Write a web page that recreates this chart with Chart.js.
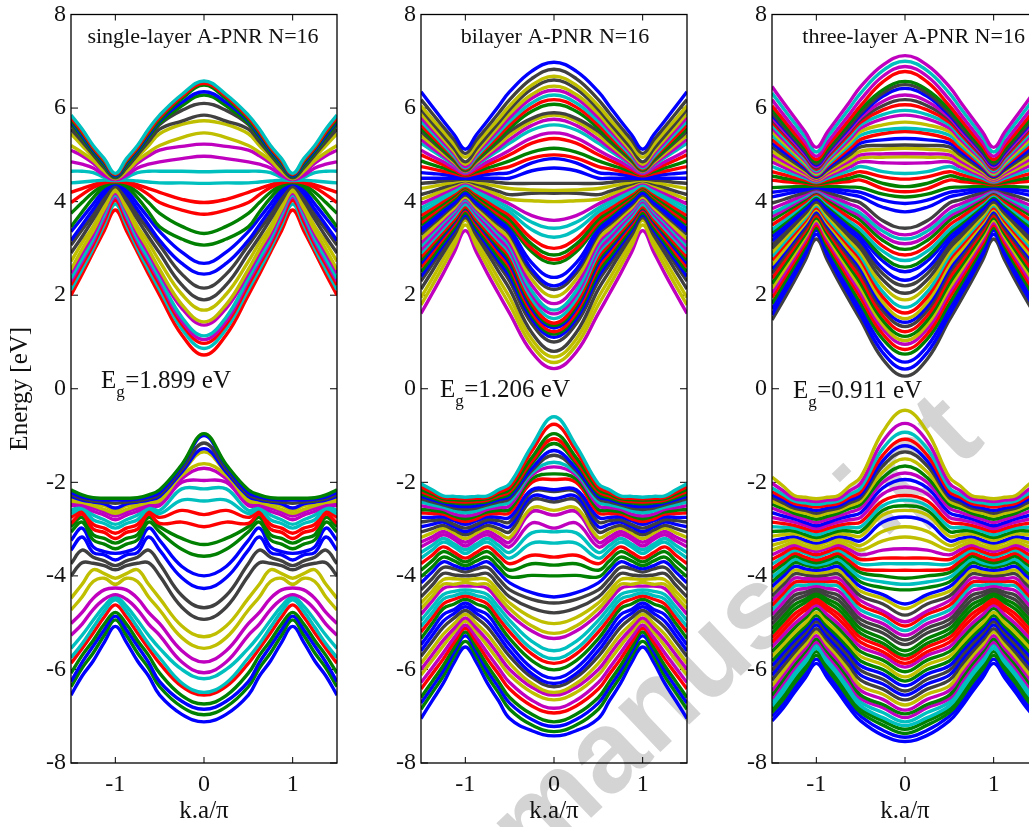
<!DOCTYPE html>
<html>
<head>
<meta charset="utf-8">
<title>A-PNR bands</title>
<script src="https://cdn.jsdelivr.net/npm/chart.js@4"></script>
<style>
  html, body { margin: 0; padding: 0; background: #fff; overflow: hidden; }
  #page { position: relative; width: 1029px; height: 827px; overflow: hidden; }
  canvas { position: absolute; top: 0; }
  #mark { position: absolute; left: 533px; top: 775px; white-space: nowrap; transform-origin: 0 98px; transform: rotate(-43.5deg);
    font: bold 116px "Liberation Sans"; color: #d4d4d4; line-height: 1; }
</style>
</head>
<body>
<div id="page">
  <div id="mark">manuscript</div>
  <canvas id="c0" width="338" height="827" style="left:0"></canvas>
  <canvas id="c1" width="338" height="827" style="left:350px"></canvas>
  <canvas id="c2" width="338" height="827" style="left:701px"></canvas>
</div>
<script>
// k positions where the bands were read; bands repeat with period 2, so
// the rest of the -1.5..1.5 range is the same rows folded back
const kNodes = [0, 0.25, 0.5, 0.625, 0.75, 0.875, 1];
const xTicks = [-1, 0, 1];
const yTicks = [-8, -6, -4, -2, 0, 2, 4, 6, 8];
const panelTitles = ['single-layer A-PNR N=16', 'bilayer A-PNR N=16', 'three-layer A-PNR N=16'];
const gapValues = ['=1.899 eV', '=1.206 eV', '=0.911 eV'];

// Each table: one row per k node, bands sorted from low to high energy
const singleCond = [
  [.72,.86,.97,1.05,1.13,1.36,1.43,1.68,1.9,2.15,2.45,2.68,3.07,3.32,3.73,3.98,4.39,4.64,4.97,5.23,5.47,5.73,5.85,6.1,6.28,6.35,6.49,6.53,6.58],
  [1.15,1.28,1.38,1.45,1.53,1.72,1.8,2.02,2.22,2.45,2.68,2.92,3.2,3.47,3.82,4.05,4.4,4.65,4.92,5.18,5.37,5.65,5.72,5.95,6.05,6.12,6.2,6.25,6.29],
  [2,2.12,2.22,2.3,2.36,2.47,2.55,2.72,2.9,3.07,3.17,3.36,3.46,3.75,3.98,4.2,4.4,4.65,4.85,5.1,5.2,5.45,5.55,5.65,5.68,5.72,5.75,5.8,5.85],
  [2.45,2.55,2.65,2.72,2.78,2.9,2.98,3.12,3.25,3.4,3.5,3.65,3.78,3.98,4.15,4.28,4.42,4.65,4.8,4.98,5.05,5.2,5.28,5.33,5.38,5.42,5.46,5.5,5.55],
  [2.92,3,3.08,3.15,3.2,3.3,3.38,3.47,3.62,3.72,3.83,3.95,4.08,4.2,4.3,4.36,4.44,4.62,4.72,4.82,4.88,4.95,5,5.03,5.06,5.1,5.13,5.16,5.2],
  [3.38,3.5,3.58,3.66,3.72,3.8,3.85,3.92,4.02,4.1,4.17,4.25,4.32,4.36,4.4,4.43,4.46,4.52,4.56,4.62,4.65,4.68,4.72,4.75,4.78,4.82,4.85,4.88,4.92],
  [3.82,3.95,4.03,4.1,4.14,4.18,4.22,4.28,4.32,4.36,4.38,4.4,4.41,4.42,4.43,4.44,4.45,4.46,4.47,4.48,4.49,4.5,4.51,4.52,4.53,4.55,4.57,4.58,4.6]
];
const singleVal = [
  [-7.12,-6.97,-6.85,-6.74,-6.55,-6.49,-6.2,-6.07,-5.84,-5.55,-5.3,-4.93,-4.68,-4.27,-4,-3.58,-3.33,-2.95,-2.69,-2.4,-2.14,-1.96,-1.7,-1.6,-1.35,-1.28,-1.16,-1,-.96],
  [-6.96,-6.8,-6.68,-6.56,-6.36,-6.29,-6,-5.84,-5.6,-5.32,-5.07,-4.67,-4.42,-4.04,-3.8,-3.43,-3.2,-2.85,-2.6,-2.38,-2.14,-2,-1.92,-1.85,-1.8,-1.78,-1.72,-1.65,-1.62],
  [-6.55,-6.37,-6.26,-6.08,-5.87,-5.75,-5.55,-5.27,-5.02,-4.73,-4.48,-4,-3.74,-3.45,-3.24,-3.06,-2.95,-2.88,-2.75,-2.67,-2.6,-2.5,-2.45,-2.4,-2.35,-2.3,-2.26,-2.22,-2.16],
  [-6.14,-5.97,-5.85,-5.7,-5.55,-5.45,-5.27,-5.03,-4.78,-4.45,-4.18,-3.72,-3.45,-3.17,-2.98,-2.85,-2.75,-2.68,-2.62,-2.57,-2.53,-2.49,-2.46,-2.43,-2.41,-2.38,-2.35,-2.31,-2.27],
  [-5.82,-5.65,-5.5,-5.38,-5.22,-5.1,-4.95,-4.72,-4.48,-4.12,-3.87,-3.73,-3.6,-3.5,-3.38,-3.23,-3.12,-3,-2.9,-2.8,-2.7,-2.62,-2.55,-2.5,-2.46,-2.42,-2.4,-2.36,-2.33],
  [-5.42,-5.27,-5.15,-5.03,-4.88,-4.76,-4.65,-4.5,-4.3,-4.05,-3.95,-3.78,-3.68,-3.55,-3.48,-3.32,-3.2,-3.07,-2.98,-2.88,-2.8,-2.7,-2.63,-2.58,-2.5,-2.46,-2.42,-2.38,-2.34],
  [-5.08,-4.94,-4.86,-4.78,-4.62,-4.51,-4.45,-4.4,-4.26,-4.18,-4.05,-3.87,-3.78,-3.66,-3.52,-3.42,-3.3,-3.2,-3.09,-2.98,-2.9,-2.8,-2.72,-2.66,-2.6,-2.55,-2.45,-2.38,-2.34]
];
const biCond = [
  [.43,.56,.68,.8,1,1.1,1.17,1.22,1.3,1.35,1.4,1.5,1.6,1.68,1.82,1.97,2.12,2.2,2.38,2.68,2.76,2.86,3,3.24,3.43,3.6,4,4.18,4.24,4.39,4.72,4.92,5,5.14,5.35,5.47,5.64,5.76,5.85,5.9,6.08,6.18,6.28,6.38,6.47,6.6,6.68,6.83,6.98],
  [.78,.93,1.06,1.2,1.39,1.49,1.57,1.63,1.71,1.77,1.83,1.92,2.01,2.09,2.21,2.34,2.47,2.55,2.69,2.93,3,3.09,3.21,3.4,3.56,3.7,4.02,4.18,4.25,4.39,4.66,4.83,4.93,5.06,5.25,5.36,5.53,5.63,5.72,5.78,5.93,6.02,6.11,6.21,6.29,6.41,6.49,6.63,6.79],
  [1.61,1.79,1.95,2.13,2.3,2.4,2.5,2.6,2.68,2.75,2.82,2.9,2.97,3.05,3.12,3.2,3.3,3.36,3.42,3.5,3.55,3.62,3.7,3.78,3.86,3.95,4.05,4.15,4.28,4.39,4.5,4.62,4.75,4.87,5,5.1,5.25,5.33,5.42,5.5,5.57,5.64,5.72,5.8,5.88,5.97,6.05,6.18,6.35],
  [2.03,2.2,2.35,2.51,2.65,2.73,2.81,2.9,2.97,3.03,3.09,3.16,3.22,3.3,3.36,3.42,3.51,3.56,3.62,3.69,3.73,3.79,3.85,3.92,3.99,4.06,4.14,4.22,4.32,4.41,4.5,4.6,4.7,4.79,4.89,4.97,5.09,5.15,5.22,5.29,5.34,5.4,5.47,5.54,5.61,5.69,5.77,5.89,6.04],
  [2.46,2.62,2.76,2.9,3,3.06,3.13,3.21,3.27,3.31,3.36,3.42,3.48,3.55,3.6,3.65,3.72,3.77,3.82,3.88,3.92,3.96,4.01,4.07,4.12,4.18,4.24,4.3,4.37,4.44,4.5,4.58,4.65,4.72,4.79,4.85,4.94,4.98,5.03,5.08,5.12,5.17,5.22,5.28,5.34,5.41,5.5,5.6,5.73],
  [2.92,3.06,3.18,3.28,3.35,3.39,3.44,3.51,3.56,3.59,3.62,3.68,3.74,3.79,3.83,3.87,3.93,3.97,4.02,4.06,4.1,4.13,4.17,4.21,4.25,4.29,4.34,4.38,4.42,4.46,4.5,4.55,4.6,4.64,4.68,4.72,4.78,4.8,4.84,4.87,4.9,4.94,4.97,5.02,5.07,5.13,5.22,5.32,5.43],
  [3.38,3.5,3.6,3.66,3.7,3.72,3.76,3.82,3.85,3.87,3.89,3.94,4,4.04,4.07,4.1,4.14,4.18,4.22,4.25,4.28,4.3,4.32,4.35,4.38,4.4,4.43,4.45,4.46,4.48,4.5,4.53,4.55,4.57,4.58,4.6,4.62,4.63,4.65,4.66,4.68,4.7,4.72,4.75,4.8,4.85,4.95,5.03,5.12]
];
const biVal = [
  [-7.42,-7.33,-7.22,-7.12,-6.93,-6.83,-6.65,-6.55,-6.49,-6.37,-6.3,-6.19,-6.01,-5.87,-5.77,-5.6,-5.34,-5.23,-5.02,-4.79,-4.58,-4.45,-4,-3.77,-3.6,-3.3,-3.06,-2.98,-2.7,-2.6,-2.42,-2.35,-2.2,-2.16,-1.94,-1.82,-1.67,-1.57,-1.42,-1.32,-1.17,-1.07,-.96,-.76,-.6],
  [-7.31,-7.19,-7.07,-6.96,-6.78,-6.66,-6.49,-6.38,-6.3,-6.17,-6.09,-5.97,-5.81,-5.67,-5.56,-5.4,-5.18,-5.07,-4.89,-4.69,-4.5,-4.36,-3.99,-3.74,-3.56,-3.3,-3.08,-2.87,-2.63,-2.55,-2.38,-2.3,-2.2,-2.16,-2,-1.93,-1.85,-1.8,-1.75,-1.7,-1.6,-1.55,-1.47,-1.33,-1.22],
  [-7.05,-6.85,-6.72,-6.6,-6.42,-6.28,-6.12,-6,-5.87,-5.72,-5.6,-5.47,-5.34,-5.2,-5.08,-4.95,-4.82,-4.7,-4.58,-4.45,-4.3,-4.15,-4.02,-3.88,-3.74,-3.62,-3.5,-3.38,-3.28,-3.18,-3.06,-2.95,-2.85,-2.75,-2.65,-2.58,-2.5,-2.42,-2.35,-2.3,-2.25,-2.2,-2.15,-2.1,-2.03],
  [-6.67,-6.5,-6.38,-6.26,-6.1,-5.97,-5.81,-5.69,-5.56,-5.41,-5.28,-5.15,-5.02,-4.9,-4.79,-4.67,-4.54,-4.44,-4.33,-4.2,-4.06,-3.92,-3.81,-3.68,-3.56,-3.45,-3.35,-3.25,-3.17,-3.08,-2.99,-2.9,-2.82,-2.75,-2.67,-2.6,-2.54,-2.48,-2.42,-2.37,-2.33,-2.29,-2.25,-2.21,-2.16],
  [-6.3,-6.15,-6.03,-5.92,-5.78,-5.65,-5.5,-5.38,-5.25,-5.1,-4.97,-4.83,-4.7,-4.6,-4.5,-4.4,-4.27,-4.18,-4.08,-3.95,-3.82,-3.7,-3.6,-3.48,-3.38,-3.28,-3.2,-3.12,-3.05,-2.98,-2.92,-2.85,-2.8,-2.74,-2.68,-2.63,-2.58,-2.53,-2.48,-2.44,-2.41,-2.38,-2.35,-2.32,-2.29],
  [-5.85,-5.72,-5.62,-5.53,-5.42,-5.32,-5.2,-5.12,-5.02,-4.9,-4.8,-4.72,-4.6,-4.5,-4.42,-4.33,-4.22,-4.18,-4.06,-3.98,-3.85,-3.78,-3.68,-3.58,-3.5,-3.38,-3.32,-3.22,-3.16,-3.08,-3.02,-2.95,-2.9,-2.82,-2.78,-2.72,-2.68,-2.61,-2.55,-2.5,-2.44,-2.41,-2.37,-2.34,-2.3],
  [-5.52,-5.4,-5.28,-5.2,-5.12,-5.05,-4.97,-4.9,-4.82,-4.74,-4.66,-4.58,-4.5,-4.43,-4.36,-4.3,-4.22,-4.14,-4.08,-4,-3.92,-3.85,-3.78,-3.7,-3.62,-3.52,-3.44,-3.36,-3.28,-3.2,-3.12,-3.05,-2.98,-2.9,-2.84,-2.78,-2.72,-2.65,-2.58,-2.52,-2.46,-2.42,-2.38,-2.35,-2.32]
];
const triCond = [
  [.27,.42,.57,.74,.84,.95,1.03,1.12,1.22,1.33,1.42,1.5,1.62,1.74,1.9,2.04,2.2,2.32,2.5,2.6,2.74,2.86,2.98,3.1,3.2,3.29,3.43,3.78,3.96,4.1,4.21,4.32,4.48,4.6,4.82,4.96,5.03,5.14,5.21,5.35,5.5,5.57,5.7,5.85,5.95,6.07,6.18,6.28,6.42,6.5,6.57,6.78,6.89,7,7.12],
  [.63,.77,.91,1.06,1.17,1.28,1.37,1.46,1.56,1.67,1.76,1.85,1.96,2.07,2.2,2.33,2.46,2.57,2.73,2.82,2.94,3.05,3.17,3.27,3.37,3.46,3.59,3.88,4.03,4.16,4.28,4.39,4.53,4.64,4.83,4.95,5.02,5.12,5.2,5.32,5.45,5.53,5.64,5.77,5.86,5.96,6.05,6.14,6.25,6.32,6.39,6.56,6.68,6.8,6.92],
  [1.47,1.58,1.7,1.82,1.95,2.05,2.15,2.25,2.36,2.47,2.56,2.65,2.75,2.83,2.91,3,3.07,3.16,3.25,3.33,3.4,3.5,3.6,3.68,3.75,3.85,3.97,4.1,4.2,4.3,4.46,4.55,4.64,4.75,4.85,4.93,5,5.08,5.17,5.25,5.33,5.42,5.5,5.57,5.64,5.7,5.76,5.8,5.85,5.9,5.97,6.05,6.18,6.32,6.46],
  [1.88,2,2.11,2.22,2.33,2.42,2.51,2.6,2.69,2.79,2.87,2.94,3.03,3.1,3.17,3.25,3.31,3.38,3.45,3.52,3.58,3.66,3.75,3.81,3.87,3.95,4.04,4.15,4.23,4.31,4.43,4.5,4.58,4.66,4.74,4.81,4.87,4.93,5,5.07,5.14,5.21,5.27,5.33,5.39,5.45,5.5,5.53,5.58,5.62,5.69,5.76,5.87,6,6.13],
  [2.3,2.41,2.52,2.62,2.72,2.8,2.87,2.95,3.03,3.11,3.18,3.24,3.31,3.37,3.43,3.5,3.55,3.6,3.66,3.72,3.77,3.83,3.9,3.95,4,4.05,4.12,4.2,4.26,4.32,4.41,4.46,4.52,4.58,4.64,4.69,4.74,4.79,4.84,4.9,4.95,5,5.05,5.1,5.15,5.2,5.24,5.27,5.32,5.35,5.41,5.47,5.57,5.69,5.81],
  [2.75,2.86,2.95,3.03,3.11,3.18,3.24,3.3,3.37,3.43,3.49,3.54,3.59,3.64,3.69,3.75,3.79,3.83,3.87,3.92,3.96,4,4.05,4.09,4.12,4.16,4.2,4.25,4.29,4.33,4.39,4.42,4.46,4.5,4.54,4.58,4.61,4.65,4.68,4.72,4.76,4.79,4.83,4.87,4.91,4.95,4.98,5.01,5.05,5.08,5.13,5.19,5.27,5.38,5.49],
  [3.2,3.3,3.38,3.44,3.5,3.55,3.6,3.65,3.7,3.75,3.79,3.83,3.87,3.91,3.95,3.99,4.02,4.05,4.08,4.11,4.14,4.17,4.2,4.22,4.24,4.26,4.28,4.3,4.32,4.34,4.36,4.38,4.4,4.42,4.44,4.46,4.48,4.5,4.52,4.54,4.56,4.58,4.6,4.63,4.66,4.69,4.72,4.75,4.78,4.81,4.85,4.9,4.97,5.06,5.16]
];
const triVal = [
  [-7.54,-7.45,-7.37,-7.28,-7.2,-7.12,-7.03,-6.95,-6.87,-6.76,-6.65,-6.55,-6.46,-6.35,-6.25,-6.16,-6.05,-5.95,-5.87,-5.78,-5.7,-5.6,-5.47,-5.37,-5.27,-5.17,-5.07,-4.98,-4.84,-4.7,-4.6,-4.3,-4.18,-4.05,-3.88,-3.74,-3.62,-3.42,-3.17,-2.95,-2.74,-2.6,-2.5,-2.38,-2.28,-2.1,-1.94,-1.8,-1.65,-1.5,-1.35,-1.22,-1.08,-.93,-.74,-.46],
  [-7.41,-7.3,-7.19,-7.1,-7.03,-6.92,-6.82,-6.75,-6.64,-6.53,-6.42,-6.31,-6.21,-6.1,-6,-5.9,-5.8,-5.7,-5.62,-5.52,-5.44,-5.34,-5.22,-5.12,-5.02,-4.92,-4.82,-4.75,-4.6,-4.48,-4.4,-4.25,-4.13,-4,-3.88,-3.74,-3.62,-3.45,-3.25,-3.05,-2.85,-2.7,-2.6,-2.5,-2.4,-2.25,-2.12,-2,-1.9,-1.78,-1.65,-1.54,-1.42,-1.28,-1.12,-.92],
  [-7.1,-7.0,-6.92,-6.85,-6.78,-6.7,-6.62,-6.55,-6.45,-6.35,-6.23,-6.12,-6.02,-5.92,-5.82,-5.72,-5.62,-5.52,-5.42,-5.32,-5.23,-5.13,-5.03,-4.93,-4.83,-4.73,-4.63,-4.53,-4.43,-4.33,-4.23,-4.13,-4.03,-3.93,-3.85,-3.75,-3.65,-3.55,-3.45,-3.35,-3.25,-3.15,-3.05,-2.95,-2.85,-2.75,-2.65,-2.55,-2.47,-2.4,-2.33,-2.27,-2.2,-2.12,-2.02,-1.89],
  [-6.83,-6.74,-6.64,-6.56,-6.48,-6.38,-6.3,-6.22,-6.13,-6.04,-5.93,-5.83,-5.74,-5.65,-5.56,-5.47,-5.37,-5.27,-5.17,-5.07,-4.97,-4.87,-4.77,-4.67,-4.57,-4.47,-4.38,-4.29,-4.19,-4.1,-4.01,-3.92,-3.84,-3.75,-3.68,-3.6,-3.52,-3.44,-3.36,-3.28,-3.2,-3.12,-3.04,-2.96,-2.88,-2.8,-2.72,-2.64,-2.56,-2.5,-2.44,-2.38,-2.32,-2.26,-2.18,-2.08],
  [-6.5,-6.4,-6.3,-6.22,-6.14,-6.05,-5.98,-5.9,-5.82,-5.73,-5.64,-5.55,-5.47,-5.39,-5.31,-5.22,-5.12,-5.03,-4.92,-4.82,-4.72,-4.62,-4.52,-4.42,-4.32,-4.22,-4.14,-4.05,-3.96,-3.88,-3.8,-3.72,-3.65,-3.58,-3.52,-3.46,-3.4,-3.34,-3.28,-3.22,-3.16,-3.1,-3.04,-2.98,-2.92,-2.85,-2.78,-2.72,-2.66,-2.6,-2.55,-2.5,-2.45,-2.4,-2.35,-2.28],
  [-6.18,-6.09,-6,-5.92,-5.85,-5.77,-5.7,-5.62,-5.55,-5.47,-5.38,-5.3,-5.22,-5.15,-5.08,-5,-4.9,-4.83,-4.73,-4.66,-4.57,-4.5,-4.42,-4.35,-4.27,-4.2,-4.12,-4.06,-3.98,-3.92,-3.85,-3.77,-3.72,-3.66,-3.6,-3.52,-3.48,-3.41,-3.36,-3.28,-3.24,-3.16,-3.12,-3.05,-2.99,-2.92,-2.86,-2.79,-2.73,-2.66,-2.6,-2.55,-2.49,-2.44,-2.38,-2.32],
  [-5.87,-5.78,-5.7,-5.62,-5.55,-5.48,-5.42,-5.35,-5.28,-5.2,-5.13,-5.05,-4.98,-4.92,-4.85,-4.78,-4.7,-4.63,-4.57,-4.5,-4.43,-4.37,-4.32,-4.27,-4.22,-4.16,-4.11,-4.06,-4,-3.94,-3.88,-3.82,-3.77,-3.72,-3.66,-3.6,-3.55,-3.48,-3.42,-3.36,-3.3,-3.24,-3.18,-3.12,-3.05,-2.99,-2.93,-2.86,-2.79,-2.72,-2.66,-2.6,-2.53,-2.47,-2.41,-2.35]
];

// Band colours, one letter per band (same order as the tables)
const singleCondCols = 'r c r m c m y y k k b b g g r r c c m m y y k k g b g r c'.split(' ');
const singleValCols = 'b g b g r c c m m y y k k b b g g r r c c m m y y b k b g'.split(' ');
const biCondCols = 'm y y k k b g r b g r c m c m y k b b g r g r c c m y k y k b b r g r m c m y k g r c m y k y k b'.split(' ');
const biValCols = 'b g b g r m y m y k b b g r c c m y y k k b g g r c c m m y k b k b r g m c k b g r g r c'.split(' ');
const triCondCols = 'k b b g r m y g r k b y r c y k k b b g c r g m c m k b b g r g r c m y m y k b r c y m c r k m b k g r m c m'.split(' ');
const triValCols = 'b b g g c c m g m y k b k b g y g m r r g g k k m c r m k y b g c g r c r m y y b y g c r m b m g y k b r c m y'.split(' ');

const matlabColors = { b: '#0000ff', g: '#008000', r: '#ff0000', c: '#00bfbf', m: '#bf00bf', y: '#bfbf00', k: '#404040' };
const serif = '"Liberation Serif", "Times New Roman", serif';

// Turn a 0..1 table into full -1.5..1.5 datasets
function bandDatasets(table, cols) {
  const last = kNodes.length - 1;
  return cols.map((c, i) => {
    const half = kNodes.map((k, j) => ({ x: k, y: table[j][i] }));
    for (let j = last - 1; j >= 2; j--) half.push({ x: 2 - kNodes[j], y: table[j][i] });
    const left = half.slice(1).reverse().map(p => ({ x: -p.x, y: p.y }));
    return {
      data: left.concat(half),
      borderColor: matlabColors[c],
      borderWidth: 3.4,
      pointRadius: 0,
      tension: 0.4,
      fill: false,
      order: -i
    };
  });
}

// Box, inward ticks and the two text labels of each panel
function panelPlugin(panel) {
  const titleX = [203, 205, 212.6][panel];
  const gapX = [101, 90, 92][panel];
  const gapY = [388, 397, 398][panel];
  return {
    id: 'panelExtras',
    beforeDatasetsDraw(chart) {
      const { ctx, chartArea: a, scales } = chart;
      ctx.save();
      ctx.strokeStyle = '#000';
      ctx.lineWidth = 1;
      ctx.beginPath();
      xTicks.forEach(v => {
        const px = scales.x.getPixelForValue(v);
        ctx.moveTo(px, a.top); ctx.lineTo(px, a.top + 6);
        ctx.moveTo(px, a.bottom); ctx.lineTo(px, a.bottom - 6);
      });
      yTicks.forEach(v => {
        const py = scales.y.getPixelForValue(v);
        ctx.moveTo(a.left, py); ctx.lineTo(a.left + 7, py);
        ctx.moveTo(a.right, py); ctx.lineTo(a.right - 7, py);
      });
      ctx.stroke();
      ctx.restore();
    },
    afterDraw(chart) {
      const { ctx, chartArea: a } = chart;
      ctx.save();
      ctx.strokeStyle = '#000';
      ctx.lineWidth = 1.3;
      ctx.strokeRect(a.left, a.top, a.right - a.left, a.bottom - a.top);
      ctx.fillStyle = '#111';
      ctx.textAlign = 'center';
      ctx.font = '22px ' + serif;
      ctx.fillText(panelTitles[panel], titleX, 43);
      ctx.textAlign = 'left';
      ctx.font = '25px ' + serif;
      ctx.fillText('E', gapX, gapY);
      const eW = ctx.measureText('E').width;
      ctx.fillText(gapValues[panel], gapX + eW + 9, gapY);
      ctx.font = '17px ' + serif;
      ctx.fillText('g', gapX + eW, gapY + 9);
      ctx.restore();
    }
  };
}

const panelBands = [
  [singleCond, singleCondCols, singleVal, singleValCols],
  [biCond, biCondCols, biVal, biValCols],
  [triCond, triCondCols, triVal, triValCols]
];

panelBands.forEach((p, panel) => {
  const datasets = bandDatasets(p[2], p[3]).concat(bandDatasets(p[0], p[1]));
  new Chart(document.getElementById('c' + panel), {
    type: 'line',
    data: { datasets },
    plugins: [panelPlugin(panel)],
    options: {
      responsive: false,
      animation: false,
      parsing: false,
      normalized: true,
      layout: { padding: { top: 14.5, right: 1, left: 0, bottom: 0 } },
      plugins: { legend: { display: false }, tooltip: { enabled: false } },
      scales: {
        x: {
          type: 'linear',
          min: -1.5,
          max: 1.5,
          afterFit(s) { s.height = 64; s.paddingLeft = 0; s.paddingRight = 0; },
          afterBuildTicks(s) { s.ticks = xTicks.map(v => ({ value: v })); },
          grid: { display: false, drawTicks: false },
          border: { display: false },
          ticks: { color: '#111', font: { family: serif, size: 24 }, padding: 7, maxRotation: 0, callback: v => String(v) },
          title: { display: true, text: 'k.a/π', color: '#111', font: { family: serif, size: 25 }, padding: { top: 0, bottom: 1 } }
        },
        y: {
          min: -8,
          max: 8,
          afterFit(s) { s.width = 71; s.paddingTop = 0; s.paddingBottom = 0; },
          afterBuildTicks(s) { s.ticks = yTicks.map(v => ({ value: v })); },
          grid: { display: false, drawTicks: false },
          border: { display: false },
          ticks: { color: '#111', font: { family: serif, size: 24 }, padding: 5, callback: v => String(v) },
          title: { display: panel === 0, text: 'Energy [eV]', color: '#111', font: { family: serif, size: 25 }, padding: { top: 5, bottom: 0 } }
        }
      }
    }
  });
});
</script>
</body>
</html>
